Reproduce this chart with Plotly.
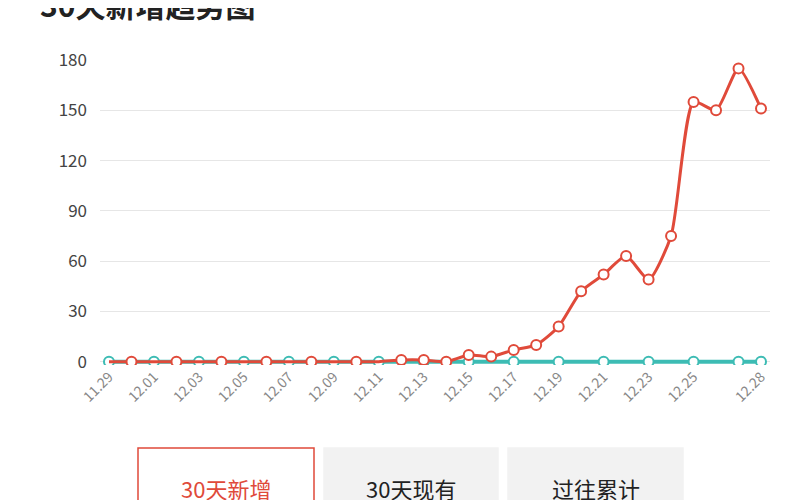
import plotly.graph_objects as go

dates = ["11.29","11.30"] + ["12.%02d" % d for d in range(1, 29)]
new_cases = [0,0,0,0,0,0,0,0,0,0,0,0,0,1,1,0,4,3,7,10,21,42,52,63,49,75,155,150,175,151]
current = [0]*30
tick_idx = list(range(0, 27, 2)) + [29]

idx = list(range(30))
red_sizes = [10 if (i % 2 == 1 and i < 14) or i >= 14 else 0 for i in idx]
teal_sizes = [10 if (i % 2 == 0) or i >= 28 else 0 for i in idx]

L, R, T, B = 92, 38, 52, 143
PW, PH = 800 - L - R, 500 - T - B

def px(x):
    return (x - L) / PW

def py(y):
    return (500 - B - y) / PH

fig = go.Figure()
fig.add_trace(go.Scatter(x=idx, y=current, mode="lines+markers",
    line=dict(color="#3dbcb4", width=4, shape="spline"),
    marker=dict(size=teal_sizes, color="white", opacity=1, line=dict(color="#3dbcb4", width=2))))
fig.add_trace(go.Scatter(x=idx, y=new_cases, mode="lines+markers",
    line=dict(color="#e04a3a", width=3, shape="spline", smoothing=0.6),
    marker=dict(size=red_sizes, color="white", opacity=1, line=dict(color="#e04a3a", width=2))))

fig.update_layout(
    width=800, height=500, showlegend=False,
    plot_bgcolor="white", paper_bgcolor="white",
    margin=dict(l=L, r=R, t=T, b=B),
    font=dict(family="Noto Sans CJK SC", color="#555"),
    xaxis=dict(range=[-0.4, 29.4], tickvals=[idx[i] for i in tick_idx],
               ticktext=[dates[i] for i in tick_idx], tickangle=-45,
               showgrid=False, zeroline=False, showline=False, tickfont=dict(size=14, color="#888")),
    yaxis=dict(range=[-2, 180], tickvals=[0,30,60,90,120,150,180], showgrid=True,
               gridcolor="#e6e6e6", zeroline=False, tickfont=dict(size=17, color="#444"),
               ticklabelstandoff=12),
)
fig.add_annotation(xref="paper", yref="paper", x=px(30), y=py(-4), xanchor="left", yanchor="middle",
    text="<b>30天新增趋势图</b>", showarrow=False, font=dict(size=30, color="#222"))
buttons = [(130, 306, "30天新增", "#e04a3a", "white", "#e04a3a"),
           (316, 490, "30天现有", "#f2f2f2", "#f2f2f2", "#222"),
           (500, 675, "过往累计", "#f2f2f2", "#f2f2f2", "#222")]
for x0, x1, t, bc, fc, tc in buttons:
    fig.add_shape(type="rect", xref="paper", yref="paper",
        x0=px(x0), x1=px(x1), y0=py(505), y1=py(440),
        line=dict(color=bc, width=1.5), fillcolor=fc, layer="below")
    fig.add_annotation(xref="paper", yref="paper", x=px((x0 + x1) / 2), y=py(480),
        xanchor="center", yanchor="middle",
        text=t, showarrow=False, font=dict(size=22, color=tc))
fig.write_html("out.html")
